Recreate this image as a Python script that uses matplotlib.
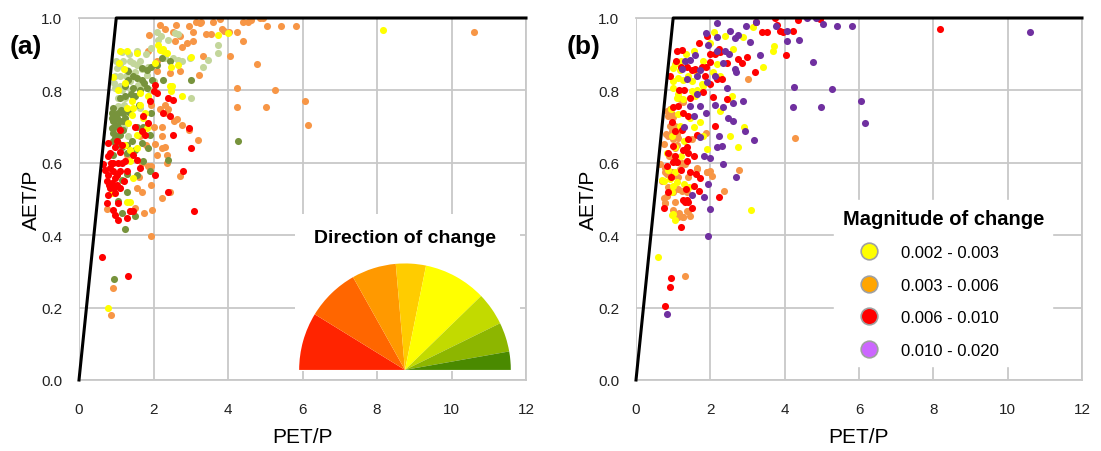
import matplotlib
matplotlib.use('Agg')
import matplotlib.pyplot as plt
from matplotlib.patches import Wedge
from matplotlib.lines import Line2D

plt.rcParams['font.family'] = ['Liberation Sans', 'DejaVu Sans']

# ---- panel (a): direction of change ----
a_orange = [(2.17, 0.98), (1.89, 0.954), (2.52, 0.96), (2.72, 0.95), (2.96, 0.977), (3.25, 0.986),
            (3.28, 0.99), (3.79, 0.998), (3.83, 0.97), (3.88, 0.963), (4.03, 0.96), (4.39, 0.99),
            (4.61, 0.995), (4.86, 1.0), (4.95, 1.0), (5.04, 0.977), (5.41, 0.977), (5.83, 0.977),
            (3.40, 0.957), (3.54, 0.957), (4.25, 0.96), (4.39, 0.936), (4.05, 0.894), (4.77, 0.873),
            (4.25, 0.807), (5.27, 0.80), (4.23, 0.753), (5.01, 0.754), (6.06, 0.77), (6.16, 0.705),
            (10.6, 0.96), (2.58, 0.936), (2.76, 0.92), (3.05, 0.936), (3.34, 0.894), (3.23, 0.843),
            (2.09, 0.853), (1.86, 0.908), (2.09, 0.88), (2.44, 0.848), (2.71, 0.853), (1.93, 0.76),
            (2.18, 0.75), (2.31, 0.76), (2.40, 0.75), (2.35, 0.738), (2.62, 0.72), (2.76, 0.705),
            (2.54, 0.715), (2.22, 0.70), (2.94, 0.69), (3.20, 0.664), (2.22, 0.673), (2.04, 0.653),
            (2.22, 0.64), (2.31, 0.645), (2.09, 0.622), (2.35, 0.622), (2.35, 0.60), (1.93, 0.59),
            (1.93, 0.54), (2.71, 0.563), (2.22, 0.503), (2.44, 0.52), (1.55, 0.53), (1.68, 0.52),
            (1.51, 0.475), (1.95, 0.47), (0.76, 0.473), (1.37, 0.466), (1.93, 0.397), (1.86, 0.59),
            (1.28, 0.622), (1.64, 0.673), (0.92, 0.253), (0.85, 0.18), (3.60, 0.99), (4.55, 0.99),
            (2.30, 0.97), (3.05, 0.96), (1.70, 0.60), (1.80, 0.65), (2.00, 0.70), (1.60, 0.56),
            (1.75, 0.46), (2.60, 0.98), (2.90, 0.93), (3.15, 0.99)]
a_lightgreen = [(2.10, 0.961), (1.93, 0.917), (2.13, 0.94), (1.57, 0.908), (1.37, 0.88), (1.19, 0.88),
                (1.10, 0.871), (1.01, 0.862), (1.28, 0.857), (1.46, 0.876), (1.64, 0.88), (1.86, 0.866),
                (0.97, 0.807), (1.10, 0.811), (1.37, 0.825), (1.59, 0.816), (1.73, 0.816), (1.82, 0.843),
                (1.10, 0.839), (0.97, 0.839), (1.23, 0.779), (1.46, 0.779), (1.06, 0.756), (1.64, 0.751),
                (2.67, 0.885), (2.76, 0.88), (2.98, 0.89), (2.53, 0.89), (3.74, 0.926), (3.74, 0.903),
                (3.47, 0.885), (3.34, 0.866), (2.31, 0.89), (2.58, 0.959), (2.00, 0.825), (3.02, 0.78),
                (1.32, 0.673), (1.06, 0.687), (1.15, 0.80), (1.25, 0.84), (1.50, 0.85), (1.70, 0.86),
                (1.05, 0.78), (1.40, 0.80), (2.65, 0.955), (1.20, 0.70), (1.00, 0.88), (1.15, 0.905),
                (1.35, 0.90), (1.55, 0.87), (1.80, 0.90), (1.20, 0.76), (0.95, 0.82), (2.20, 0.95),
                (2.40, 0.94), (1.90, 0.80)]
a_olive = [(2.24, 0.89), (2.44, 0.88), (3.02, 0.83), (1.93, 0.866), (1.82, 0.857), (1.68, 0.862),
           (1.32, 0.853), (1.46, 0.839), (1.32, 0.83), (1.55, 0.834), (1.68, 0.83), (1.23, 0.811),
           (1.46, 0.807), (1.64, 0.80), (1.82, 0.807), (1.23, 0.784), (1.50, 0.784), (1.10, 0.779),
           (0.92, 0.751), (0.88, 0.738), (0.88, 0.724), (0.92, 0.715), (1.01, 0.724), (1.10, 0.715),
           (1.19, 0.715), (1.06, 0.738), (1.19, 0.738), (1.23, 0.724), (0.88, 0.696), (0.92, 0.682),
           (1.01, 0.673), (0.97, 0.669), (1.10, 0.678), (1.06, 0.655), (1.15, 0.645), (1.28, 0.65),
           (1.41, 0.66), (1.55, 0.70), (1.73, 0.70), (1.93, 0.738), (1.90, 0.678), (1.68, 0.655),
           (0.92, 0.622), (1.28, 0.627), (1.50, 0.636), (1.73, 0.604), (2.40, 0.609), (1.90, 0.576),
           (1.55, 0.567), (1.28, 0.52), (1.15, 0.553), (1.06, 0.494), (1.15, 0.461), (1.51, 0.452),
           (1.23, 0.418), (4.28, 0.661), (1.95, 0.83), (2.26, 0.83), (0.95, 0.278), (0.95, 0.70),
           (1.00, 0.735), (1.05, 0.70), (0.98, 0.705), (1.12, 0.745), (1.03, 0.66), (0.90, 0.66),
           (1.18, 0.69), (1.35, 0.74), (1.40, 0.79), (1.60, 0.76), (1.75, 0.82), (2.10, 0.87),
           (1.85, 0.64), (1.30, 0.57)]
a_yellow = [(1.10, 0.908), (1.28, 0.908), (1.08, 0.876), (0.92, 0.837), (1.23, 0.82), (1.64, 0.793),
            (1.41, 0.77), (1.64, 0.76), (1.46, 0.751), (1.28, 0.751), (1.77, 0.738), (1.41, 0.733),
            (1.32, 0.71), (1.82, 0.696), (1.55, 0.678), (1.23, 0.65), (1.37, 0.636), (1.55, 0.641),
            (1.37, 0.604), (1.46, 0.558), (1.37, 0.492), (1.28, 0.492), (0.89, 0.517), (2.13, 0.926),
            (2.17, 0.912), (2.26, 0.908), (3.00, 0.891), (3.74, 0.954), (3.99, 0.959), (2.46, 0.866),
            (2.67, 0.871), (2.44, 0.811), (2.48, 0.797), (2.76, 0.784), (8.17, 0.967), (0.79, 0.20),
            (1.55, 0.903), (2.26, 0.913), (2.35, 0.903), (2.04, 0.876), (2.50, 0.813), (1.86, 0.784),
            (1.73, 0.724), (1.05, 0.80), (1.20, 0.86)]
a_red = [(2.00, 0.797), (2.09, 0.793), (2.04, 0.816), (2.53, 0.774), (2.26, 0.738), (2.44, 0.728),
         (1.73, 0.728), (1.86, 0.71), (1.68, 0.687), (1.77, 0.678), (1.10, 0.691), (1.01, 0.66),
         (0.79, 0.655), (0.97, 0.645), (0.83, 0.627), (1.10, 0.631), (1.23, 0.604), (0.65, 0.597),
         (0.83, 0.586), (0.92, 0.576), (0.79, 0.567), (1.01, 0.567), (1.10, 0.576), (0.97, 0.558),
         (0.74, 0.551), (0.88, 0.544), (1.01, 0.54), (0.83, 0.53), (1.10, 0.53), (0.97, 0.516),
         (0.79, 0.512), (0.74, 0.489), (1.06, 0.489), (2.04, 0.567), (2.40, 0.52), (2.80, 0.578),
         (3.02, 0.641), (2.94, 0.696), (2.53, 0.678), (1.46, 0.622), (1.28, 0.576), (1.55, 0.609),
         (1.64, 0.586), (0.97, 0.457), (1.06, 0.443), (1.28, 0.448), (1.37, 0.466), (1.46, 0.466),
         (3.10, 0.467), (2.40, 0.78), (0.61, 0.34), (1.32, 0.288), (0.90, 0.60), (1.15, 0.60),
         (0.85, 0.60), (0.95, 0.53), (0.80, 0.54), (0.70, 0.58), (1.05, 0.60), (1.20, 0.55),
         (0.90, 0.47), (1.15, 0.65), (1.50, 0.70), (1.90, 0.77), (0.78, 0.62)]

# ---- panel (b): magnitude of change ----
b_orange = [(3.02, 0.831), (4.28, 0.668), (2.77, 0.58), (2.38, 0.523), (1.99, 0.578), (2.04, 0.564),
            (1.88, 0.681), (0.83, 0.744), (0.91, 0.749), (0.96, 0.735), (0.87, 0.73), (1.00, 0.726),
            (1.05, 0.703), (0.91, 0.703), (0.96, 0.689), (0.87, 0.675), (1.00, 0.666), (1.09, 0.68),
            (1.14, 0.668), (1.18, 0.776), (1.27, 0.767), (0.74, 0.652), (0.65, 0.597), (0.78, 0.587),
            (0.87, 0.578), (0.96, 0.574), (1.00, 0.564), (0.83, 0.569), (1.09, 0.601), (1.18, 0.583),
            (1.32, 0.597), (1.14, 0.56), (0.87, 0.532), (0.83, 0.509), (1.00, 0.518), (1.14, 0.528),
            (1.23, 0.523), (1.36, 0.518), (0.78, 0.489), (1.05, 0.491), (1.14, 0.449), (1.27, 0.449),
            (1.45, 0.454), (1.36, 0.468), (1.90, 0.574), (1.63, 0.583), (1.50, 0.666), (1.32, 0.288),
            (0.77, 0.488), (1.16, 0.462), (1.26, 0.45), (1.41, 0.468), (0.76, 0.502), (0.78, 0.575),
            (1.90, 0.575), (1.63, 0.586), (0.95, 0.62), (1.05, 0.64), (0.90, 0.62), (1.10, 0.65),
            (1.20, 0.70), (0.80, 0.68), (0.70, 0.55), (1.25, 0.60), (1.00, 0.47), (1.40, 0.56)]
b_yellow = [(2.10, 0.96), (2.39, 0.951), (2.87, 0.947), (3.14, 0.976), (3.72, 0.924), (3.69, 0.91),
            (3.41, 0.866), (1.56, 0.91), (1.79, 0.882), (1.00, 0.862), (1.05, 0.873), (1.18, 0.855),
            (1.14, 0.833), (1.00, 0.827), (1.27, 0.829), (1.41, 0.841), (1.50, 0.827), (1.63, 0.848),
            (1.77, 0.818), (1.00, 0.806), (1.14, 0.79), (1.27, 0.776), (1.50, 0.799), (1.59, 0.785),
            (1.81, 0.813), (2.48, 0.776), (2.57, 0.785), (2.08, 0.852), (2.26, 0.841), (2.26, 0.744),
            (2.62, 0.914), (2.17, 0.873), (1.14, 0.735), (1.18, 0.703), (1.45, 0.723), (0.83, 0.627),
            (0.96, 0.675), (1.05, 0.643), (1.72, 0.712), (1.81, 0.675), (1.90, 0.638), (2.53, 0.675),
            (2.75, 0.643), (2.91, 0.70), (0.74, 0.551), (0.91, 0.555), (1.00, 0.537), (1.29, 0.541),
            (1.43, 0.532), (1.05, 0.574), (0.99, 0.459), (3.09, 0.47), (0.60, 0.34), (0.97, 0.457),
            (1.04, 0.442), (0.71, 0.552), (0.98, 0.518), (1.09, 0.548), (1.20, 0.88), (1.35, 0.90),
            (1.10, 0.78), (0.95, 0.75), (1.30, 0.66), (1.20, 0.62), (0.85, 0.58), (1.55, 0.70),
            (1.65, 0.80), (2.00, 0.93)]
b_red = [(3.74, 1.0), (3.80, 0.98), (3.87, 0.965), (3.95, 0.962), (4.23, 0.965), (4.35, 0.994),
         (4.92, 1.0), (4.95, 0.998), (3.23, 0.99), (3.38, 0.96), (3.52, 0.96), (4.04, 0.898),
         (2.98, 0.891), (2.84, 0.877), (2.75, 0.887), (2.44, 0.875), (3.21, 0.85), (2.22, 0.914),
         (2.26, 0.905), (2.12, 0.90), (1.09, 0.91), (1.25, 0.912), (1.08, 0.88), (1.21, 0.864),
         (0.91, 0.839), (1.36, 0.864), (1.50, 0.855), (1.77, 0.864), (1.88, 0.864), (1.99, 0.878),
         (2.17, 0.832), (2.31, 0.832), (1.86, 0.839), (1.99, 0.818), (1.81, 0.795), (2.08, 0.781),
         (2.44, 0.776), (1.00, 0.755), (1.14, 0.758), (1.27, 0.738), (1.41, 0.728), (0.96, 0.712),
         (1.05, 0.689), (1.23, 0.69), (1.41, 0.666), (1.63, 0.677), (2.12, 0.703), (1.36, 0.643),
         (1.27, 0.634), (1.41, 0.627), (1.00, 0.647), (0.87, 0.627), (0.99, 0.601), (1.11, 0.601),
         (1.36, 0.606), (0.83, 0.592), (1.45, 0.574), (1.69, 0.521), (2.22, 0.506), (1.32, 0.493),
         (1.41, 0.491), (0.74, 0.474), (1.21, 0.422), (0.95, 0.282), (0.91, 0.257), (0.77, 0.204),
         (1.56, 0.535), (1.27, 0.497), (1.38, 0.497), (1.50, 0.474), (0.87, 0.518), (1.61, 0.569),
         (1.72, 0.558), (1.35, 0.528), (8.18, 0.97), (1.15, 0.80), (1.30, 0.80), (1.45, 0.78),
         (1.60, 0.86), (1.70, 0.93), (1.90, 0.95), (2.00, 0.90), (1.05, 0.62), (1.20, 0.58),
         (0.95, 0.56), (1.55, 0.62)]
b_purple = [(2.17, 0.986), (1.87, 0.958), (2.17, 0.947), (2.53, 0.965), (2.75, 0.953), (2.66, 0.944),
            (2.96, 0.979), (3.23, 0.99), (3.07, 0.933), (3.34, 0.899), (3.78, 0.979), (4.05, 0.963),
            (4.05, 0.936), (4.39, 0.94), (4.59, 0.999), (4.83, 0.999), (5.04, 0.983), (5.42, 0.979),
            (5.82, 0.979), (4.75, 0.878), (4.25, 0.81), (5.27, 0.804), (4.22, 0.755), (4.99, 0.755),
            (6.05, 0.772), (6.16, 0.709), (1.95, 0.926), (2.17, 0.91), (2.39, 0.908), (1.32, 0.882),
            (1.45, 0.884), (1.59, 0.898), (2.13, 0.841), (2.35, 0.875), (2.66, 0.859), (2.69, 0.852),
            (1.72, 0.855), (1.36, 0.831), (1.63, 0.839), (1.90, 0.822), (2.44, 0.808), (1.45, 0.756),
            (1.72, 0.758), (1.88, 0.737), (2.12, 0.76), (2.35, 0.753), (2.62, 0.765), (2.89, 0.772),
            (2.48, 0.724), (2.62, 0.715), (2.92, 0.689), (3.18, 0.663), (2.22, 0.673), (2.31, 0.647),
            (2.19, 0.643), (1.72, 0.67), (1.83, 0.618), (1.99, 0.612), (2.35, 0.597), (2.69, 0.56),
            (1.95, 0.541), (1.50, 0.512), (1.84, 0.506), (2.00, 0.471), (1.93, 0.397), (0.84, 0.183),
            (10.6, 0.96), (1.30, 0.70), (1.55, 0.73), (1.65, 0.79), (2.50, 0.90), (1.25, 0.86)]

# Budyko limits
limit_x = [0, 1, 12]
limit_y = [0, 1, 1]

# legend content
wedge_edges = [180, 148.5, 119.4, 95, 78.5, 44, 26, 10, 0]
wedge_colors = ['#FF2400', '#FF6600', '#FF9900', '#FFCC00', '#FFFF00', '#C2DA00', '#8DB600', '#4A8A00']
mag_labels = ['0.002 - 0.003', '0.003 - 0.006', '0.006 - 0.010', '0.010 - 0.020']
mag_colors = ['#FFFF00', '#FFA500', '#FF0000', '#CC66FF']

W, H = 1101, 452
fig = plt.figure(figsize=(W / 100, H / 100), dpi=100)


def base_axes(left_px, width_px, tag):
    ax = fig.add_axes([left_px / W, 1 - 381 / H, width_px / W, 362 / H])
    ax.set_xlim(0, 12)
    ax.set_ylim(0, 1)
    ax.set_xticks(range(0, 13, 2))
    ax.set_yticks([0, 0.2, 0.4, 0.6, 0.8, 1.0])
    ax.set_yticklabels(['0.0', '0.2', '0.4', '0.6', '0.8', '1.0'])
    ax.grid(True, color='#C8C8C8', lw=1.3)
    ax.set_axisbelow(True)
    for s in ['top', 'right', 'bottom']:
        ax.spines[s].set_color('#C8C8C8')
        ax.spines[s].set_linewidth(1.3)
    ax.spines['left'].set_visible(False)
    ax.tick_params(length=0, labelsize=11, colors='#222222')
    ax.tick_params(axis='x', pad=16)
    ax.tick_params(axis='y', pad=12)
    ax.set_xlabel('PET/P', fontsize=15)
    ax.set_ylabel('AET/P', fontsize=15)
    ax.xaxis.set_label_coords(0.5, -0.13)
    ax.yaxis.set_label_coords(-0.085, 0.5)
    ax.plot(limit_x, limit_y, color='black', lw=2.2, clip_on=False, zorder=4)
    fig.text((left_px - 69) / W, 1 - 47 / H, tag, fontsize=19, fontweight='bold', va='center')
    return ax


def dots(ax, pts, color):
    ax.scatter([p[0] for p in pts], [p[1] for p in pts], s=26, color=color, lw=0, zorder=3)


ax1 = base_axes(79, 447, '(a)')
dots(ax1, a_orange, '#F79646')
dots(ax1, a_lightgreen, '#C3D69B')
dots(ax1, a_olive, '#77933C')
dots(ax1, a_yellow, '#FFFF00')
dots(ax1, a_red, '#FF0000')

# direction-of-change semicircle
ins = ax1.inset_axes([5.80, 0.025, 6.04, 0.434], transform=ax1.transData)
ins.set_xlim(-1.07, 1.12)
ins.set_ylim(-0.01, 1.51)
ins.axis('off')
ins.add_patch(plt.Rectangle((-1.07, -0.01), 2.19, 1.52, color='white', zorder=0))
for i, c in enumerate(wedge_colors):
    ins.add_patch(Wedge((0, 0), 1.03, wedge_edges[i + 1], wedge_edges[i], color=c, lw=0))
ins.text(0.0, 1.28, 'Direction of change', ha='center', va='center', fontsize=14, fontweight='bold')

ax2 = base_axes(636, 446, '(b)')
dots(ax2, b_orange, '#F79646')
dots(ax2, b_yellow, '#FFFF00')
dots(ax2, b_red, '#FF0000')
dots(ax2, b_purple, '#7030A0')

handles = [Line2D([], [], ls='none', marker='o', markersize=12, markerfacecolor=c,
                  markeredgecolor='#A0A0A0', markeredgewidth=1.2) for c in mag_colors]
leg = ax2.legend(handles, mag_labels, title='Magnitude of change', loc='upper left',
                 bbox_to_anchor=((826 - 636) / 446, (381 - 193) / 362), fontsize=12,
                 title_fontproperties={'weight': 'bold', 'size': 14.5}, frameon=True,
                 fancybox=False, edgecolor='white', framealpha=1, labelspacing=1.05,
                 handletextpad=0.4, borderpad=0.5, handlelength=3.1, alignment='left')

fig.savefig('out.png', dpi=100)
